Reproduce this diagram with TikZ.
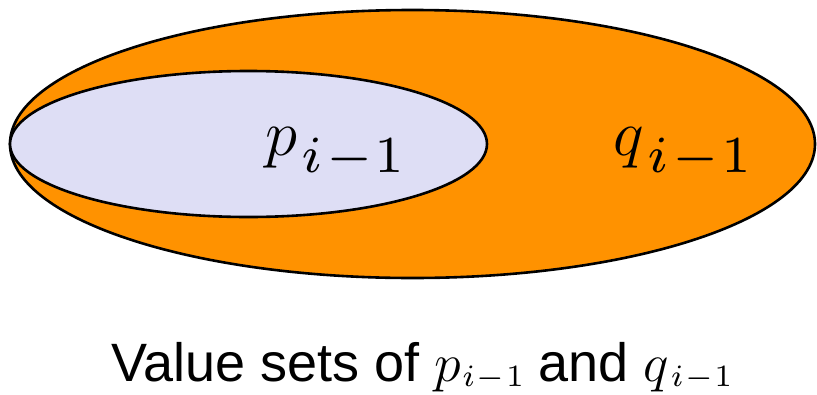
\documentclass[tikz,border=0pt]{standalone}
\usepackage{fix-cm}
\usepackage{fontspec}
\setmainfont{Liberation Sans}
\font\bigsubmi=cmmi7 at 52pt
\font\bigsubsy=cmsy7 at 52pt
\font\bigsubrm=cmr7 at 52pt
\font\capsubmi=cmmi7 at 31pt
\font\capsubsy=cmsy7 at 31pt
\font\capsubrm=cmr7 at 31pt
\newcommand\bigidx[1]{\(#1\)\kern4pt\raisebox{-17pt}{\bigsubmi i\kern4pt{\bigsubsy\char0}\kern2pt{\bigsubrm 1}}}
\newcommand\capidx[1]{\(#1\)\kern1.5pt\raisebox{-5pt}{\capsubmi i\kern2pt{\capsubsy\char0}\kern1.5pt{\capsubrm 1}}}
\begin{document}
\begin{tikzpicture}[x=1pt,y=-1pt,
  setline/.style={draw=black,line width=2.6pt},
  biglabel/.style={font=\fontsize{65}{72}\selectfont,inner sep=0pt,anchor=base west},
  caption/.style={font=\fontsize{54}{60}\selectfont,inner sep=0pt,anchor=base west}]
\definecolor{qorange}{RGB}{255,146,0}
\definecolor{plavender}{RGB}{222,222,245}
\useasboundingbox (0,0) rectangle (817,394);
\fill[white] (0,0) rectangle (817,394);
\path[setline,fill=qorange] (412.5,144) ellipse [x radius=402.5,y radius=134];
\path[setline,fill=plavender] (248.5,144) ellipse [x radius=238.5,y radius=73];
\node[biglabel] (p) at (265,155) {\bigidx{p}};
\node[biglabel] (q) at (613,155) {\bigidx{q}};
\node[caption] (cap) at (111,381) {Value sets of \capidx{p} and \capidx{q}};
\end{tikzpicture}
\end{document}
